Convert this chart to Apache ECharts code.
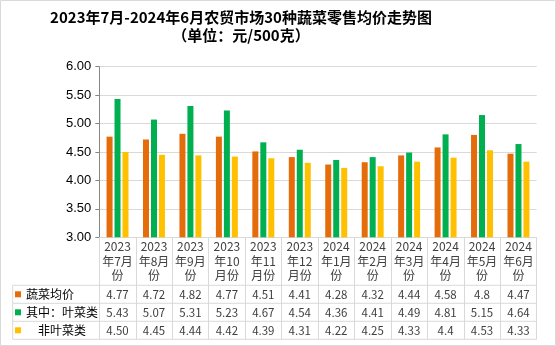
<!DOCTYPE html>
<html><head><meta charset="utf-8">
<script src="https://cdn.jsdelivr.net/npm/echarts@6/dist/echarts.min.js"></script>
<style>html,body{margin:0;padding:0;background:#fff}#c{width:556px;height:346px}</style>
</head><body><div id="c"></div>
<script>
var categories = ['2023\n年7月\n份','2023\n年8月\n份','2023\n年9月\n份','2023\n年10\n月份','2023\n年11\n月份','2023\n年12\n月份','2024\n年1月\n份','2024\n年2月\n份','2024\n年3月\n份','2024\n年4月\n份','2024\n年5月\n份','2024\n年6月\n份'];
var seriesNames = ['蔬菜均价','其中：叶菜类','非叶菜类'];
var avgValues = ['4.77','4.72','4.82','4.77','4.51','4.41','4.28','4.32','4.44','4.58','4.8','4.47'];
var leafValues = ['5.43','5.07','5.31','5.23','4.67','4.54','4.36','4.41','4.49','4.81','5.15','4.64'];
var nonLeafValues = ['4.50','4.45','4.44','4.42','4.39','4.31','4.22','4.25','4.33','4.4','4.53','4.33'];
var yTicks = {min: 3, max: 6, interval: 0.5};

var colors = ['#E46C0A','#00B050','#FFC000'];
var valueSets = [avgValues, leafValues, nonLeafValues];
var CJK = '"Noto Sans CJK SC", "Noto Sans", sans-serif';

var gridLeft = 99.3, gridRight = 19.3, gridTop = 66.7, gridBottom = 108.7;
var W = 556, H = 346;
var axisY = H - gridBottom;      // 237.3
var rowH = 18, headerH = 48;
var tableLeft = 12.7, tableRight = W - gridRight;

var chart = echarts.init(document.getElementById('c'), null, {renderer: 'canvas'});

var xAxes = [{
  type: 'category', data: categories, gridIndex: 0, position: 'bottom',
  axisLine: {show: true, lineStyle: {color: '#d9d9d9'}},
  axisTick: {show: true, interval: 0, length: headerH + rowH * 3, lineStyle: {color: '#d9d9d9'}},
  axisLabel: {interval: 0, margin: 2, fontSize: 12, lineHeight: 14.5, color: '#404040', fontFamily: CJK}
}];
valueSets.forEach(function (vals, i) {
  xAxes.push({
    type: 'category', data: vals, gridIndex: 0, position: 'bottom',
    offset: headerH + rowH * i,
    axisLine: {show: false}, axisTick: {show: false},
    axisLabel: {interval: 0, margin: 0, fontSize: 11.5, lineHeight: rowH, color: '#404040', fontFamily: CJK, verticalAlign: 'top'}
  });
});

var graphics = [{
  type: 'rect', shape: {x: 0.5, y: 0.5, width: W - 1, height: H - 1},
  style: {fill: 'none', stroke: '#d9d9d9', lineWidth: 1}, silent: true
}];
for (var r = 0; r <= 3; r++) {
  var yy = axisY + headerH + rowH * r;
  graphics.push({type: 'line', shape: {x1: tableLeft, y1: yy, x2: tableRight, y2: yy}, style: {stroke: '#d9d9d9', lineWidth: 1}, silent: true});
}
graphics.push({type: 'line', shape: {x1: tableLeft, y1: axisY + headerH, x2: tableLeft, y2: axisY + headerH + rowH * 3}, style: {stroke: '#d9d9d9', lineWidth: 1}, silent: true});

chart.setOption({
  animation: false,
  color: colors,
  title: {
    text: '2023年7月-2024年6月农贸市场30种蔬菜零售均价走势图',
    subtext: '（单位：元/500克）',
    left: 236, top: 5, textAlign: 'center', itemGap: 3,
    textStyle: {fontSize: 15, fontWeight: 'bold', color: '#000', fontFamily: CJK},
    subtextStyle: {fontSize: 15, fontWeight: 'bold', color: '#000', fontFamily: CJK}
  },
  legend: {
    orient: 'vertical', left: 15, top: axisY + headerH, itemGap: 0,
    itemWidth: 6, itemHeight: 6, icon: 'rect',
    data: seriesNames,
    formatter: function (n) { return n === '非叶菜类' ? '\u3000' + n : n; },
    textStyle: {fontSize: 12, lineHeight: rowH, color: '#000', fontFamily: CJK},
    padding: 0, selectedMode: false
  },
  grid: {left: gridLeft, right: gridRight, top: gridTop, bottom: gridBottom, containLabel: false},
  xAxis: xAxes,
  yAxis: {
    type: 'value', min: yTicks.min, max: yTicks.max, interval: yTicks.interval,
    axisLine: {show: true, lineStyle: {color: '#868686'}},
    axisTick: {show: true, length: 4, lineStyle: {color: '#868686'}},
    splitLine: {lineStyle: {color: '#d9d9d9'}},
    axisLabel: {fontSize: 13, color: '#000', margin: 8, fontFamily: '"Liberation Sans", Arial, sans-serif',
      formatter: function (v) { return v.toFixed(2); }}
  },
  series: valueSets.map(function (vals, i) {
    return {
      name: seriesNames[i], type: 'bar', xAxisIndex: 0, yAxisIndex: 0,
      barWidth: 6, barGap: '33%',
      data: vals.map(Number)
    };
  }),
  graphic: graphics
});
</script>
</body></html>
